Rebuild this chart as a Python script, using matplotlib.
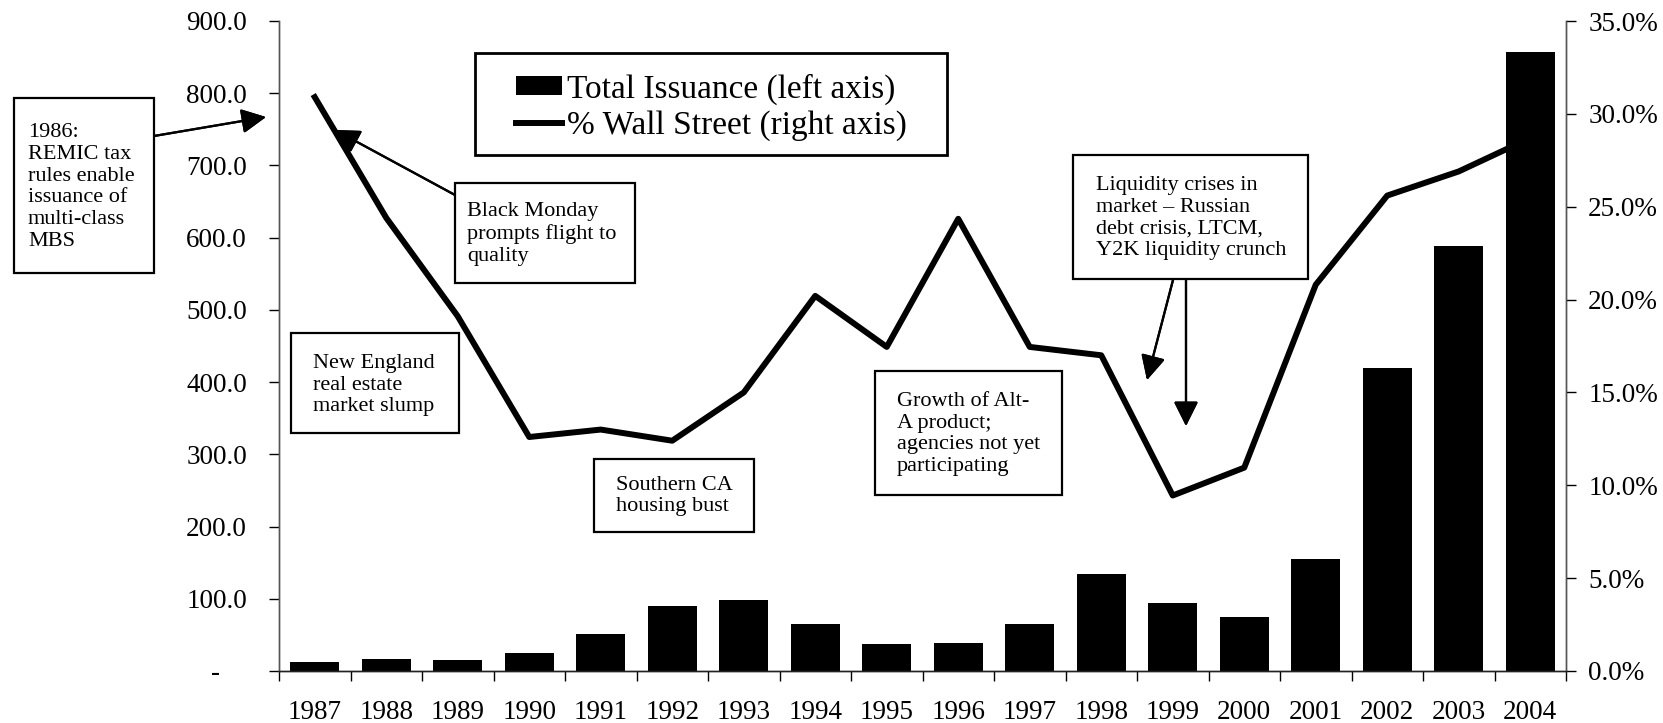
import matplotlib.pyplot as plt
from matplotlib.patches import Rectangle
from matplotlib.ticker import FixedLocator, FuncFormatter

years = ["1987", "1988", "1989", "1990", "1991", "1992", "1993", "1994", "1995",
         "1996", "1997", "1998", "1999", "2000", "2001", "2002", "2003", "2004"]
total_issuance = [12, 17, 15.5, 25, 51, 90, 99, 64.5, 38, 39, 64.5, 135,
                  94, 75, 155, 420, 588, 857]
wall_street_pct = [30.9, 24.4, 19.1, 12.6, 13.0, 12.4, 15.0, 20.2, 17.45, 24.35,
                   17.45, 17.0, 9.45, 10.95, 20.8, 25.6, 26.9, 28.7]

left_ticks = [0, 100, 200, 300, 400, 500, 600, 700, 800, 900]
right_ticks = [0, 5, 10, 15, 20, 25, 30, 35]

notes = [
    ("1986:\nREMIC tax\nrules enable\nissuance of\nmulti-class\nMBS",
     (14, 98, 154, 273), (28, 187)),
    ("Black Monday\nprompts flight to\nquality", (455, 183, 635, 283), (467, 234)),
    ("New England\nreal estate\nmarket slump", (291, 333, 459, 433), (313, 385)),
    ("Southern CA\nhousing bust", (594, 459, 754, 532), (616, 496)),
    ("Growth of Alt-\nA product;\nagencies not yet\nparticipating",
     (875, 371, 1062, 495), (897, 434)),
    ("Liquidity crises in\nmarket \u2013 Russian\ndebt crisis, LTCM,\nY2K liquidity crunch",
     (1073, 155, 1308, 279), (1096, 218)),
]
arrows = [
    ((154, 136), (266, 117)),
    ((455, 195), (335, 130)),
    ((1173, 280), (1147, 380)),
    ((1186, 280), (1186, 426)),
]
legend_box = (475, 53, 947, 155)

W, H = 1663, 723
plt.rcParams["font.family"] = ["Liberation Serif", "DejaVu Serif"]


def px(x, y):
    # pixel position measured from the top-left corner -> figure fraction
    return x / W, 1 - y / H


def left_fmt(v, pos):
    # accounting style: zero shows as a dash, padded like the source
    return "-    " if v == 0 else f"{v:.1f}"


fig = plt.figure(figsize=(W / 100, H / 100), dpi=100)
ax = fig.add_axes([279 / W, 52 / H, 1287 / W, 650 / H])
ax2 = ax.twinx()

x = range(len(years))
bars = ax.bar(x, total_issuance, width=0.68, color="black",
              label="Total Issuance (left axis)", zorder=2)
line, = ax2.plot(x, wall_street_pct, color="black", lw=4.3,
                 solid_joinstyle="round", label="% Wall Street (right axis)")

ax.set_xlim(-0.5, len(years) - 0.5)
ax.set_ylim(0, 900)
ax2.set_ylim(0, 35)

ax.set_xticks(list(x))
ax.set_xticklabels(years, fontsize=19.5)
ax.tick_params(axis="x", which="major", length=0, pad=21)
ax.xaxis.set_minor_locator(FixedLocator([i - 0.5 for i in range(len(years) + 1)]))
ax.tick_params(axis="x", which="minor", length=7, width=1, direction="out")

ax.set_yticks(left_ticks)
ax.yaxis.set_major_formatter(FuncFormatter(left_fmt))
ax.tick_params(axis="y", length=7, width=1, direction="out", labelsize=19.5, pad=16)

ax2.set_yticks(right_ticks)
ax2.yaxis.set_major_formatter(FuncFormatter(lambda v, p: f"{v:.1f}%"))
ax2.tick_params(axis="y", length=7, width=1, direction="out", labelsize=19.5, pad=9)

for a in (ax, ax2):
    a.spines["top"].set_visible(False)
    a.spines["bottom"].set_color("#222222")
    for s in ("left", "right"):
        a.spines[s].set_color("#555555")
    for s in ("left", "right", "bottom"):
        a.spines[s].set_linewidth(1)

# legend: frame drawn separately so its padding can follow the original
lx0, ly0, lx1, ly1 = legend_box
fig.patches.append(Rectangle(px(lx0, ly1), (lx1 - lx0) / W, (ly1 - ly0) / H,
                             transform=fig.transFigure, facecolor="white",
                             edgecolor="black", lw=2, zorder=5))
leg = fig.legend([bars, line], [bars.get_label(), line.get_label()],
                 loc="center left", bbox_to_anchor=px(516, 107),
                 bbox_transform=fig.transFigure, borderaxespad=0, borderpad=0,
                 frameon=False, fontsize=24, handlelength=1.38, handleheight=0.5,
                 handletextpad=0.15, labelspacing=0.15)
leg.set_zorder(6)

for text, (x0, y0, x1, y1), (tx, ty) in notes:
    fig.patches.append(Rectangle(px(x0, y1), (x1 - x0) / W, (y1 - y0) / H,
                                 transform=fig.transFigure, facecolor="white",
                                 edgecolor="black", lw=1.6, zorder=5))
    fig.text(*px(tx, ty), text, fontsize=16, ha="left", va="center",
             linespacing=1.2, zorder=6)

for start, end in arrows:
    fig.add_artist(plt.annotate("", xy=px(*end), xycoords="figure fraction",
                                xytext=px(*start), textcoords="figure fraction",
                                arrowprops=dict(arrowstyle="-|>,head_length=1.5,head_width=0.75",
                                                color="black", lw=1.6,
                                                shrinkA=0, shrinkB=0)))

fig.savefig("out.png", dpi=100)
